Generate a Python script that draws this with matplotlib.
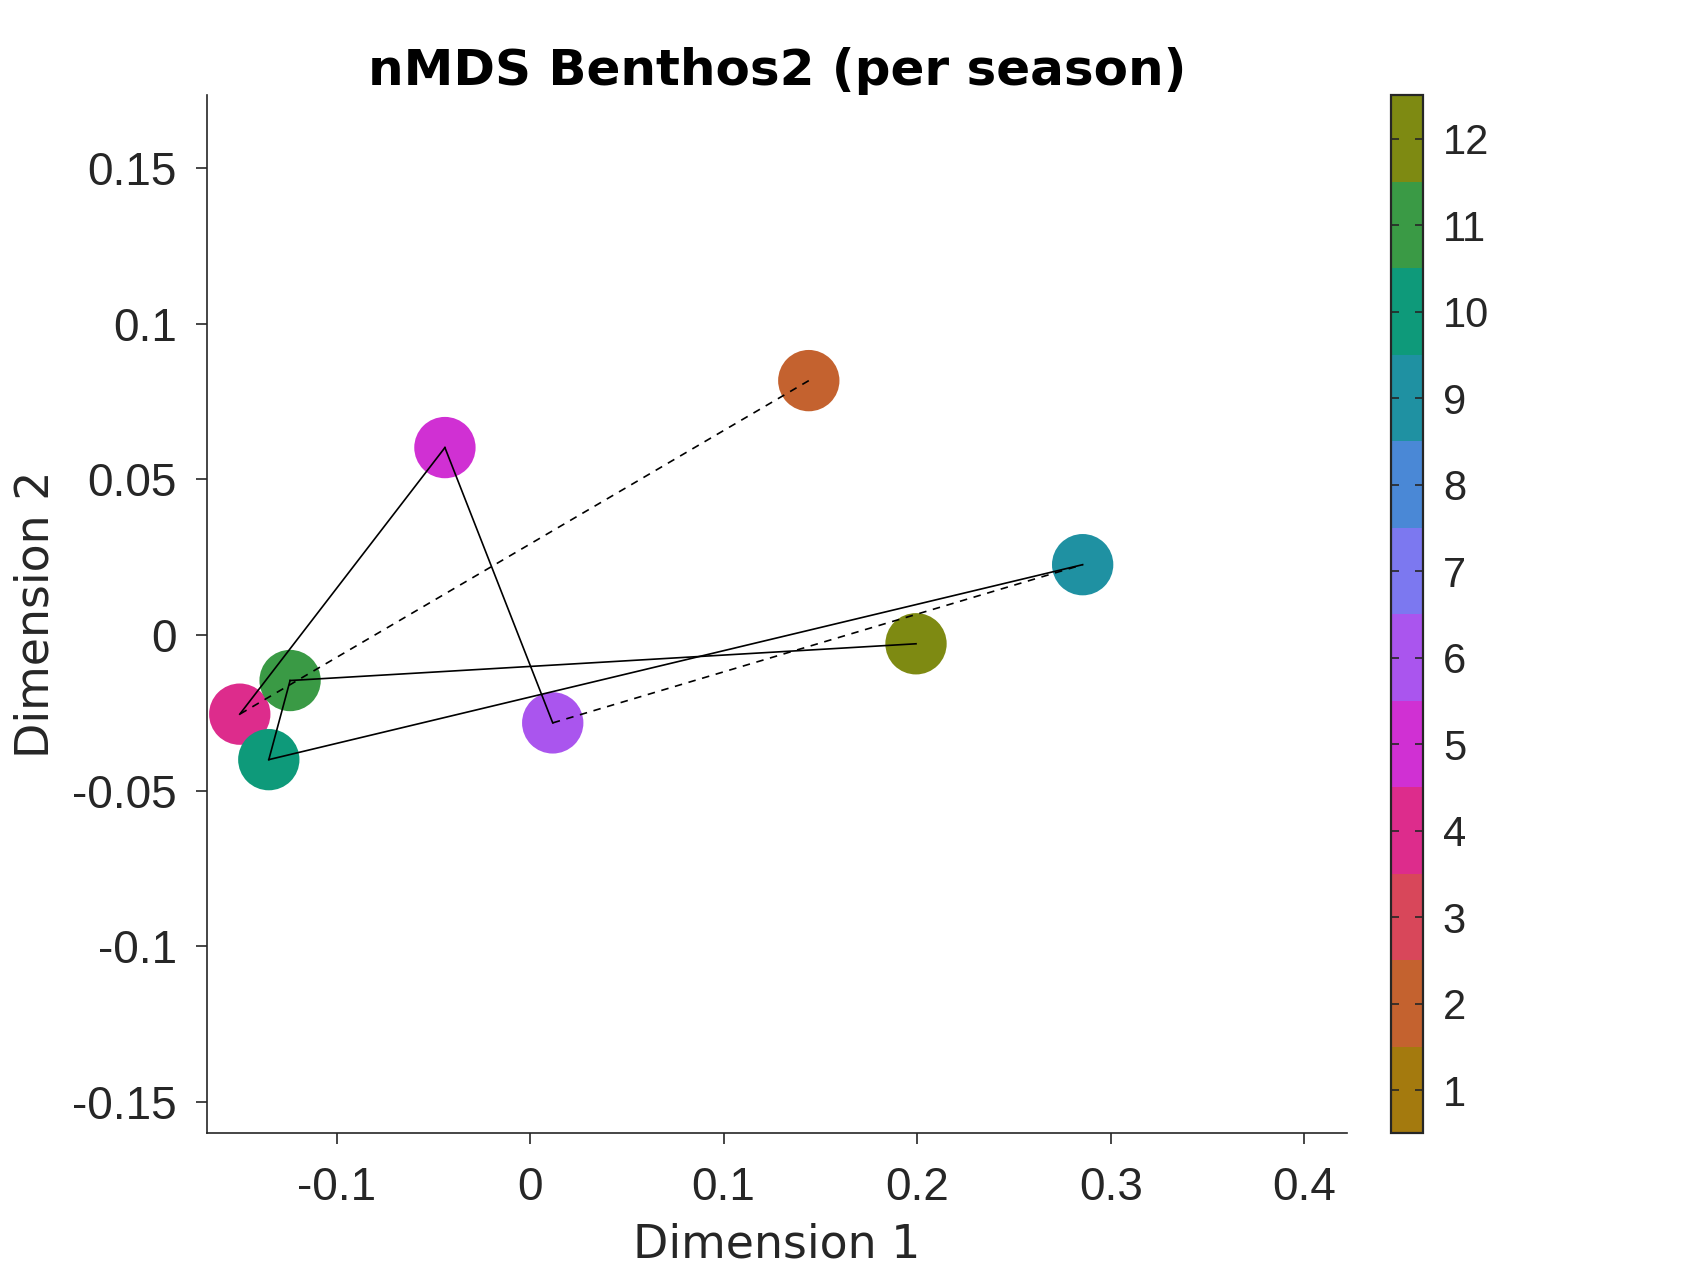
import numpy as np
import matplotlib
matplotlib.use('Agg')
import matplotlib.pyplot as plt
from matplotlib.colors import ListedColormap, BoundaryNorm
from matplotlib.colorbar import ColorbarBase

# coordinate nMDS per mese
months = [2, 4, 5, 6, 9, 10, 11, 12]
dim1 = [0.144, -0.150, -0.044, 0.0117, 0.2855, -0.135, -0.124, 0.1994]
dim2 = [0.0817, -0.0254, 0.0602, -0.0282, 0.0226, -0.0400, -0.0146, -0.0028]

# colori dei 12 mesi (mappa ciclica a la cmocean phase)
month_colors = ['#A47A0E', '#C4622F', '#D8475A', '#DD2C8C', '#D030D3', '#AA55EE',
                '#7C78F0', '#4A88D6', '#1F91A2', '#0E9A7A', '#3A9A45', '#7E8A12']
cbar_ticks = list(range(1, 13))

xticks = [-0.1, 0, 0.1, 0.2, 0.3, 0.4]
yticks = [-0.15, -0.1, -0.05, 0, 0.05, 0.1, 0.15]

txt = '#262626'
tick_font = 'Liberation Sans'

fig = plt.figure(figsize=(16.97, 12.73), dpi=100)
ax = fig.add_axes([0.1219, 0.1097, 0.6721, 0.8154])

cmap = ListedColormap(month_colors)
norm = BoundaryNorm(np.arange(0.5, 13.5, 1), cmap.N)

ax.scatter(dim1, dim2, c=months, cmap=cmap, norm=norm, s=1950, edgecolors='none', zorder=2)

# linee fra mesi successivi: continua se consecutivi, tratteggiata se manca un mese
for i in range(len(months) - 1):
    ls = '-' if months[i + 1] - months[i] == 1 else (0, (4.5, 4))
    ax.plot(dim1[i:i + 2], dim2[i:i + 2], color='black', lw=1.2, linestyle=ls, zorder=3)

ax.set_xlim(-0.167, 0.4223)
ax.set_ylim(-0.160, 0.1733)
ax.set_xticks(xticks)
ax.set_yticks(yticks)
ax.set_xticklabels([f'{v:g}' for v in xticks], fontfamily=tick_font)
ax.set_yticklabels([f'{v:g}' for v in yticks], fontfamily=tick_font)
ax.tick_params(direction='out', length=7.7, width=1.2, colors=txt, labelsize=33)
ax.tick_params(axis='x', pad=16)
ax.tick_params(axis='y', pad=14)

for side in ['top', 'right']:
    ax.spines[side].set_visible(False)
for side in ['left', 'bottom']:
    ax.spines[side].set_linewidth(1.2)
    ax.spines[side].set_color(txt)

ax.set_xlabel('Dimension 1', fontsize=33, color=txt, labelpad=9, fontfamily='DejaVu Sans')
ax.set_ylabel('Dimension 2', fontsize=33, color=txt, labelpad=10, fontfamily='DejaVu Sans')
ax.set_title('nMDS Benthos2 (per season)', fontsize=36, fontweight='bold',
             fontfamily='DejaVu Sans', pad=5)

cax = fig.add_axes([0.8197, 0.1097, 0.0191, 0.8154])
cb = ColorbarBase(cax, cmap=cmap, norm=norm, ticks=cbar_ticks, orientation='vertical')
cb.outline.set_linewidth(1.6)
cb.outline.set_edgecolor(txt)
cax.minorticks_off()
cax.tick_params(direction='in', length=6, width=1.2, colors=txt, labelsize=30,
                left=True, right=True, labelleft=False, labelright=True, pad=14)
for lab in cax.get_yticklabels():
    lab.set_fontfamily(tick_font)

fig.savefig('out.png', dpi=100, facecolor='white')
